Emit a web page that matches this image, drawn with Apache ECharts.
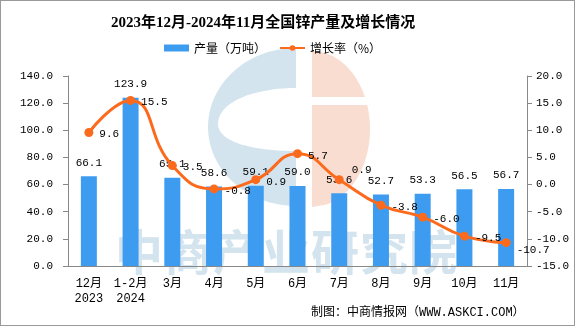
<!DOCTYPE html>
<html><head><meta charset="utf-8">
<script src="https://cdn.jsdelivr.net/npm/echarts@6/dist/echarts.min.js"></script>
<style>
html,body{margin:0;padding:0;background:#fff;}
#c{width:575px;height:326px;box-sizing:border-box;border:1px solid #9a9a9a;}
</style></head>
<body><div id="c"></div>
<script>
var categories = ['12月\n2023','1-2月\n2024','3月','4月','5月','6月','7月','8月','9月','10月','11月'];
var production = [66.1,123.9,65.1,58.6,59.1,59.0,53.6,52.7,53.3,56.5,56.7];
var growth = [9.6,15.5,3.5,-0.8,0.9,5.7,0.9,-3.8,-6.0,-9.5,-10.7];
var leftTicks = {min:0,max:140,interval:20};
var rightTicks = {min:-15,max:20,interval:5};

var numFont = 'Liberation Mono, Noto Sans CJK SC';
var numSize = 11;
var chart = echarts.init(document.getElementById('c'));

// watermark logo shapes (decoration only)
function bez(p0,p1,p2,p3,n){var o=[];for(var i=0;i<=n;i++){var t=i/n,u=1-t;o.push([u*u*u*p0[0]+3*u*u*t*p1[0]+3*u*t*t*p2[0]+t*t*t*p3[0],u*u*u*p0[1]+3*u*u*t*p1[1]+3*u*t*t*p2[1]+t*t*t*p3[1]]);}return o;}
function blueLogo(){
  var cx=295,cy=126,rx=88,ry=79,pts=[];
  for(var i=0;i<=40;i++){var a=Math.PI/2 + Math.PI*i/40;pts.push([cx+rx*Math.cos(a),cy-ry*Math.sin(a)]);}
  pts=pts.concat(bez([295,150],[255,150],[217,142],[217,123],20));
  pts=pts.concat(bez([217,123],[217,100],[255,87],[295,87],20));
  return pts;
}
function orangePart(y0,y1){
  var cx=311,cy=128,rx=58,ry=78,pts=[];
  for(var i=0;i<=40;i++){
    var y=y0+(y1-y0)*i/40;var d=1-Math.pow((y-cy)/ry,2);if(d<0)d=0;
    pts.push([cx+rx*Math.sqrt(d),y]);
  }
  pts.push([cx,y1]);pts.push([cx,y0]);
  return pts;
}
var wmChars = '中商产业研究院'.split('');
var wmGraphics = wmChars.map(function(ch,i){
  return {type:'text', z:-10, silent:true, left:114+49*i, top:227,
    style:{text:ch, fill:'#d3e4ee', fontSize:48, fontWeight:'bold', fontFamily:'Noto Sans CJK SC'}};
});

var lineData = growth.map(function(v,i){
  var d = {value:v};
  if (i===6) d.label = {position:'right', offset:[2,-10]};
  if (i===10) d.label = {position:'right', offset:[0,7]};
  return d;
});

chart.setOption({
  animation:false,
  backgroundColor:'#fff',
  title:{
    text:'2023年12月-2024年11月全国锌产量及增长情况',
    left:105, top:10,
    textStyle:{fontFamily:'Liberation Serif, Noto Sans CJK SC',fontWeight:'bold',fontSize:15,color:'#000'}
  },
  legend:[
    {top:41, left:163, padding:0, itemWidth:25, itemHeight:7,
     textStyle:{fontFamily:'Noto Sans CJK SC',fontSize:12,color:'#000'},
     data:[{name:'产量（万吨）',icon:'rect'}]},
    {top:41, left:278, padding:0, itemWidth:25, itemHeight:7,
     textStyle:{fontFamily:'Noto Sans CJK SC',fontSize:12,color:'#000'},
     data:[{name:'增长率（%）'}]}
  ],
  graphic:[
    {type:'polygon', z:-10, silent:true, shape:{points:blueLogo()}, style:{fill:'#d3e4ee'}},
    {type:'polygon', z:-10, silent:true, shape:{points:orangePart(50,96)}, style:{fill:'#f9ddd0'}},
    {type:'polygon', z:-10, silent:true, shape:{points:orangePart(104,206)}, style:{fill:'#f9ddd0'}}
  ].concat(wmGraphics).concat([
    {type:'text', left:310, top:306,
     style:{text:'制图：中商情报网（WWW.ASKCI.COM）', fill:'#000', fontSize:12, fontFamily:'Liberation Mono, Noto Sans CJK SC'}}
  ]),
  grid:{left:67, right:47, top:75, bottom:59, containLabel:false},
  xAxis:{
    type:'category', data:categories,
    axisLine:{lineStyle:{color:'#888'}},
    axisTick:{alignWithLabel:false, length:5, lineStyle:{color:'#888'}},
    axisLabel:{color:'#000', fontFamily:numFont, fontSize:12, lineHeight:15, margin:10, interval:0}
  },
  yAxis:[
    {type:'value', min:leftTicks.min, max:leftTicks.max, interval:leftTicks.interval,
     splitLine:{show:false},
     axisLine:{show:true, lineStyle:{color:'#888'}},
     axisTick:{show:true, length:5, lineStyle:{color:'#888'}},
     axisLabel:{color:'#000', fontFamily:numFont, fontSize:numSize, margin:15, formatter:function(v){return v.toFixed(1);}}},
    {type:'value', min:rightTicks.min, max:rightTicks.max, interval:rightTicks.interval,
     splitLine:{show:false},
     axisLine:{show:true, lineStyle:{color:'#888'}},
     axisTick:{show:true, length:5, lineStyle:{color:'#888'}},
     axisLabel:{color:'#000', fontFamily:numFont, fontSize:numSize, margin:9, formatter:function(v){return v.toFixed(1);}}}
  ],
  series:[
    {name:'产量（万吨）', type:'bar', data:production, barWidth:16, itemStyle:{color:'#3d9cf0'},
     label:{show:true, position:'top', distance:8, color:'#000', fontFamily:numFont, fontSize:numSize,
            formatter:function(p){return p.value.toFixed(1);}}},
    {name:'增长率（%）', type:'line', yAxisIndex:1, data:lineData, smooth:true,
     symbol:'circle', symbolSize:9,
     lineStyle:{color:'#fc6a1e', width:3}, itemStyle:{color:'#fc6a1e'},
     label:{show:true, position:'right', distance:6, offset:[0,2], color:'#000', fontFamily:numFont, fontSize:numSize,
            formatter:function(p){return Number(p.value).toFixed(1);}}}
  ]
});
</script></body></html>
